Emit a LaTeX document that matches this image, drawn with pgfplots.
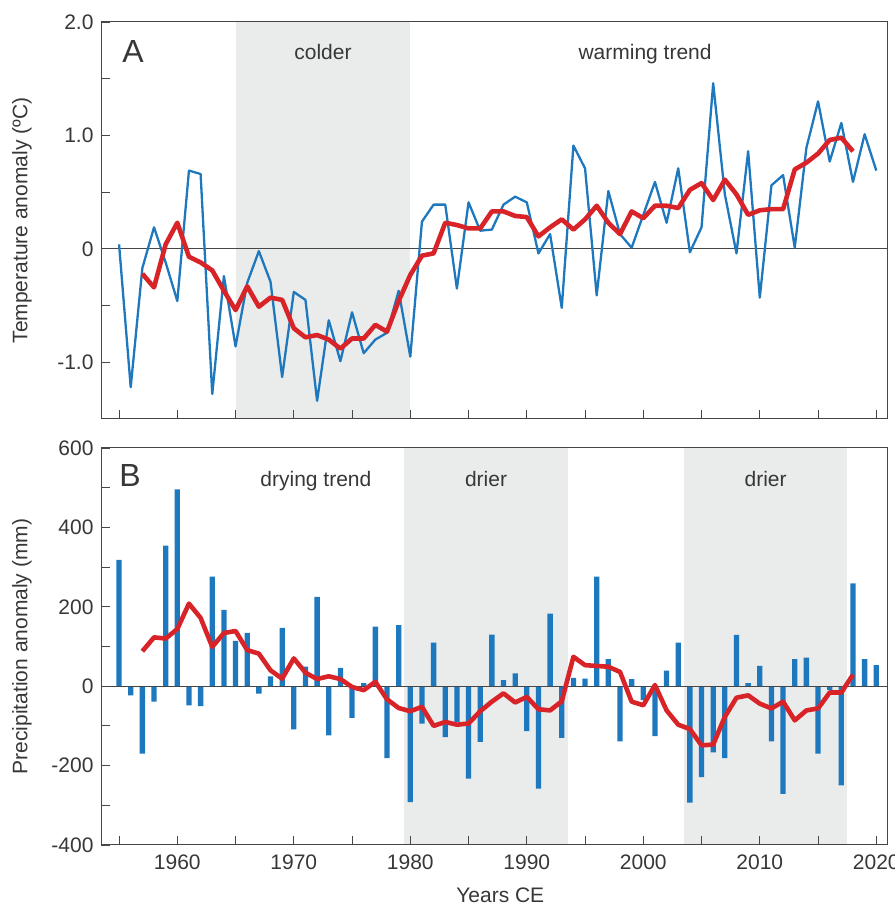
\documentclass[border=0pt]{standalone}
\usepackage{fontspec}
\setmainfont{Liberation Sans}
\usepackage{pgfplots}
\pgfplotsset{compat=1.18}
\definecolor{shadec}{RGB}{234,235,235}
\definecolor{bluec}{RGB}{30,120,190}
\definecolor{redc}{RGB}{216,36,40}
\definecolor{framec}{RGB}{70,70,70}
\definecolor{textc}{RGB}{55,55,55}
\newcommand{\tf}{\fontsize{21}{25}\selectfont}
\pgfplotsset{
  myaxis/.style={
    scale only axis, width=786pt, height=397pt,
    anchor=south west,
    xmin=1953.45, xmax=2020.92,
    axis line style={draw=framec, line width=1pt},
    every tick/.style={draw=framec, line width=0.9pt},
    major tick length=9pt, minor tick length=9pt,
    tick align=inside, xtick pos=left, ytick pos=left,
    xtick={1960,1970,1980,1990,2000,2010,2020},
    minor xtick={1955,1965,1975,1985,1995,2005,2015},
    ticklabel style={font=\tf, text=textc},
    xticklabel style={yshift=-6pt},
    yticklabel style={xshift=-4pt},
    label style={font=\tf, text=textc},
    ylabel style={at={(axis description cs:-0.1005,0.5)}, anchor=center},
    axis on top, clip=true,
  }
}
\begin{document}
\begin{tikzpicture}
\useasboundingbox (0pt,0pt) rectangle (894pt,909pt);
% Panel A
\begin{axis}[myaxis, at={(101pt,490pt)},
  ymin=-1.5, ymax=2.0,
  ytick={-1,0,1,2}, yticklabels={-1.0,0,1.0,2.0},
  minor ytick={-0.5,0.5,1.5},
  xticklabels={},
  ylabel={Temperature anomaly (ºC)}]
\fill[shadec] (axis cs:1965,-1.5) rectangle (axis cs:1980,2.0);
\addplot[framec, line width=0.8pt, forget plot] coordinates {(1953.45,0) (2020.92,0)};
\addplot[bluec, line width=2.3pt, line join=round] table {
1955 0.04
1956 -1.22
1957 -0.17
1958 0.19
1959 -0.12
1960 -0.46
1961 0.69
1962 0.66
1963 -1.28
1964 -0.24
1965 -0.86
1966 -0.30
1967 -0.02
1968 -0.29
1969 -1.13
1970 -0.38
1971 -0.45
1972 -1.34
1973 -0.63
1974 -0.99
1975 -0.56
1976 -0.92
1977 -0.80
1978 -0.74
1979 -0.37
1980 -0.95
1981 0.24
1982 0.39
1983 0.39
1984 -0.35
1985 0.41
1986 0.16
1987 0.17
1988 0.39
1989 0.46
1990 0.41
1991 -0.04
1992 0.13
1993 -0.52
1994 0.91
1995 0.71
1996 -0.41
1997 0.51
1998 0.13
1999 0.01
2000 0.30
2001 0.59
2002 0.23
2003 0.71
2004 -0.03
2005 0.19
2006 1.46
2007 0.48
2008 -0.04
2009 0.86
2010 -0.43
2011 0.56
2012 0.65
2013 0.01
2014 0.89
2015 1.30
2016 0.77
2017 1.11
2018 0.59
2019 1.01
2020 0.69
};
\addplot[redc, line width=4.6pt, line join=round] table {
1957 -0.22
1958 -0.34
1959 0.04
1960 0.23
1961 -0.07
1962 -0.12
1963 -0.19
1964 -0.37
1965 -0.54
1966 -0.33
1967 -0.51
1968 -0.43
1969 -0.45
1970 -0.70
1971 -0.78
1972 -0.76
1973 -0.80
1974 -0.88
1975 -0.79
1976 -0.79
1977 -0.67
1978 -0.73
1979 -0.46
1980 -0.23
1981 -0.06
1982 -0.04
1983 0.23
1984 0.21
1985 0.18
1986 0.18
1987 0.33
1988 0.33
1989 0.29
1990 0.28
1991 0.11
1992 0.19
1993 0.26
1994 0.17
1995 0.26
1996 0.38
1997 0.23
1998 0.13
1999 0.33
2000 0.27
2001 0.38
2002 0.38
2003 0.36
2004 0.52
2005 0.58
2006 0.43
2007 0.61
2008 0.48
2009 0.30
2010 0.34
2011 0.35
2012 0.35
2013 0.70
2014 0.76
2015 0.84
2016 0.96
2017 0.98
2018 0.86
};
\node[font=\fontsize{32}{38}\selectfont, text=textc, anchor=base] at (axis cs:1956.2,1.64) {A};
\node[font=\tf, text=textc, anchor=base] at (axis cs:1972.5,1.669) {colder};
\node[font=\tf, text=textc, anchor=base] at (axis cs:2000.15,1.669) {warming trend};
\end{axis}
% Panel B
\begin{axis}[myaxis, at={(101pt,64pt)},
  ymin=-400, ymax=600,
  ytick={-400,-200,0,200,400,600}, yticklabels={-400,-200,0,200,400,600},
  minor ytick={-300,-100,100,300,500},
  xticklabels={1960,1970,1980,1990,2000,2010,2020},
  xlabel={Years CE},
  xlabel style={at={(axis description cs:0.508,-0.146)}, anchor=base},
  ylabel={Precipitation anomaly (mm)}]
\fill[shadec] (axis cs:1979.5,-400) rectangle (axis cs:1993.5,600);
\fill[shadec] (axis cs:2003.5,-400) rectangle (axis cs:2017.5,600);
\addplot[ybar, bar width=5.3pt, fill=bluec, draw=none] table {
1955 318
1956 -23
1957 -170
1958 -39
1959 354
1960 496
1961 -48
1962 -50
1963 276
1964 192
1965 114
1966 134
1967 -19
1968 25
1969 147
1970 -109
1971 49
1972 225
1973 -124
1974 46
1975 -80
1976 8
1977 150
1978 -181
1979 154
1980 -292
1981 -94
1982 110
1983 -128
1984 -90
1985 -233
1986 -140
1987 130
1988 15
1989 32
1990 -113
1991 -258
1992 183
1993 -130
1994 21
1995 19
1996 276
1997 68
1998 -139
1999 18
2000 -35
2001 -126
2002 39
2003 110
2004 -293
2005 -229
2006 -167
2007 -181
2008 129
2009 8
2010 51
2011 -139
2012 -271
2013 68
2014 72
2015 -170
2016 -10
2017 -250
2018 259
2019 68
2020 53
};
\addplot[framec, line width=0.8pt, forget plot] coordinates {(1953.45,0) (2020.92,0)};
\addplot[redc, line width=4.6pt, line join=round] table {
1957 88
1958 123
1959 120
1960 144
1961 208
1962 172
1963 99
1964 134
1965 139
1966 91
1967 82
1968 40
1969 19
1970 70
1971 34
1972 18
1973 25
1974 18
1975 -2
1976 -10
1977 11
1978 -33
1979 -55
1980 -63
1981 -52
1982 -100
1983 -90
1984 -97
1985 -94
1986 -63
1987 -39
1988 -18
1989 -41
1990 -27
1991 -58
1992 -61
1993 -38
1994 74
1995 53
1996 51
1997 49
1998 36
1999 -39
2000 -48
2001 3
2002 -61
2003 -97
2004 -108
2005 -149
2006 -147
2007 -77
2008 -29
2009 -23
2010 -44
2011 -56
2012 -39
2013 -86
2014 -61
2015 -56
2016 -16
2017 -16
2018 29
};
\node[font=\fontsize{32}{38}\selectfont, text=textc, anchor=base] at (axis cs:1955.94,502) {B};
\node[font=\tf, text=textc, anchor=base] at (axis cs:1971.9,502) {drying trend};
\node[font=\tf, text=textc, anchor=base] at (axis cs:1986.5,502) {drier};
\node[font=\tf, text=textc, anchor=base] at (axis cs:2010.5,502) {drier};
\end{axis}
\end{tikzpicture}
\end{document}
